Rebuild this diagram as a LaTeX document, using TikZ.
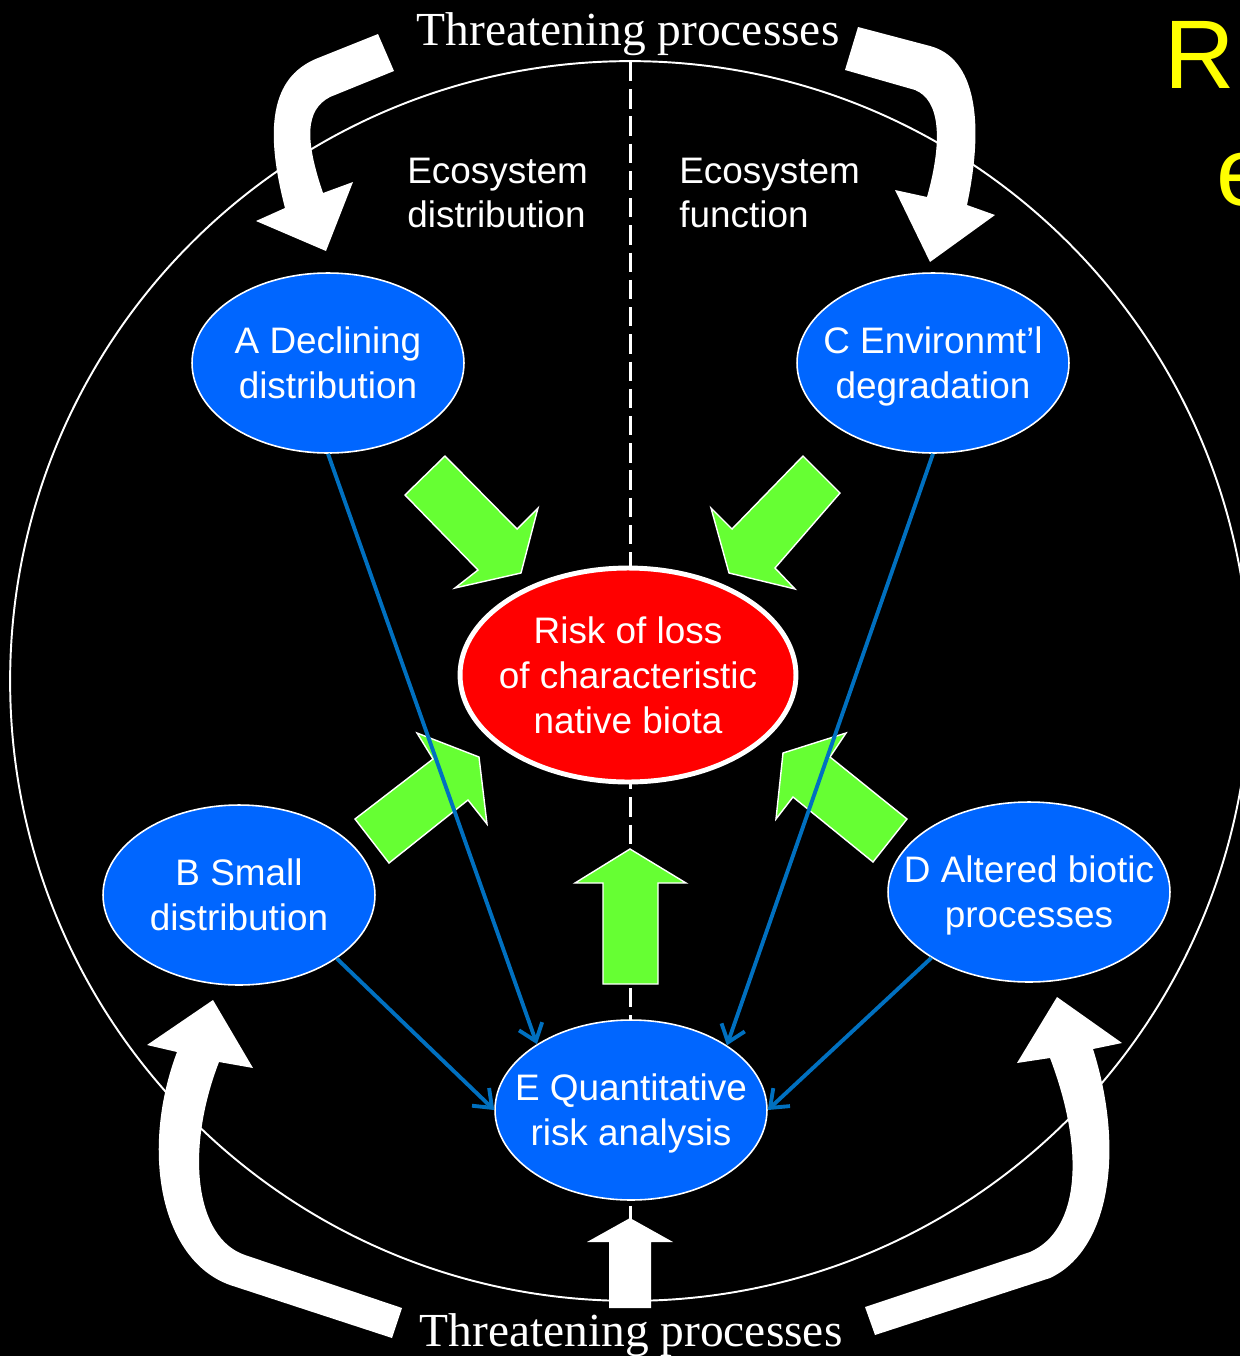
\documentclass[tikz,border=0pt]{standalone}
\usepackage{fontspec}
\setmainfont{Liberation Sans}
\newfontfamily\threatfont{Liberation Serif}
\usetikzlibrary{shapes.geometric,arrows.meta}
\definecolor{nodeblue}{HTML}{0066FF}
\definecolor{linkblue}{HTML}{0070C0}
\definecolor{riskred}{HTML}{FF0000}
\definecolor{flowgreen}{HTML}{66FF33}
\definecolor{titleyellow}{HTML}{FFFF00}

\begin{document}
\begin{tikzpicture}[x=0.02cm,y=-0.02cm,
  factor/.style={ellipse, fill=nodeblue, draw=white, line width=0.9pt,
    text=white, align=center, inner ysep=0pt, inner xsep=-1.6cm,
    text depth=0pt,
    minimum width=5.44cm, minimum height=3.6cm,
    font=\fontsize{21}{25.5}\selectfont},
  riskcore/.style={ellipse, fill=riskred, draw=white, line width=2.8pt,
    text=white, align=center, inner ysep=0pt, inner xsep=-1.6cm,
    text depth=0pt,
    minimum width=6.72cm, minimum height=4.28cm,
    font=\fontsize{21}{25.5}\selectfont},
  threat/.style={text=white, inner sep=0pt, anchor=base,
    font=\threatfont\fontsize{27}{30}\selectfont},
  eco/.style={text=white, inner sep=0pt, anchor=west, align=left,
    font=\fontsize{21}{25.5}\selectfont},
  headline/.style={text=titleyellow, inner sep=0pt, anchor=base west,
    font=\fontsize{55.5}{60}\selectfont},
  link/.style={draw=linkblue, line width=2.2pt,
    -{Straight Barb[length=9pt,width=14pt]}},
  pressure/.style={fill=white},
  influence/.style={fill=flowgreen, draw=white, line width=0.8pt, line join=miter},
  divider/.style={draw=white, line width=1.7pt, dash pattern=on 11pt off 4.5pt},
  boundary/.style={draw=white, line width=1.1pt}]

% canvas
\useasboundingbox (0,0) rectangle (1240,1356);
\fill[black] (0,0) rectangle (1240,1356);
\clip (0,0) rectangle (1240,1356);

% ecosystem boundary and the distribution / function divide
\draw[boundary] (630,681) circle [radius=12.4cm];
\draw[divider] (630,62) -- (630,1300);

% threatening processes acting on the ecosystem
\fill[pressure] (378,34) -- (318,58) .. controls (275,75) and (262,120) .. (285,208)
  -- (256,221) -- (326,251) -- (353,182) -- (323,193)
  .. controls (305,140) and (305,110) .. (330,97) -- (394,71) -- cycle;
\fill[pressure] (858,27) -- (930,46) .. controls (975,58) and (985,120) .. (967,205)
  -- (995,215) -- (930,262) -- (895,190) -- (927,197)
  .. controls (943,140) and (940,100) .. (915,90) -- (845,70) -- cycle;
\fill[pressure] (402,1308) -- (245,1255) .. controls (195,1238) and (185,1150) .. (219,1062)
  -- (253,1068) -- (213,1000) -- (147,1045) -- (177,1052)
  .. controls (140,1150) and (160,1260) .. (230,1285) -- (392,1338) -- cycle;
\fill[pressure] (865,1307) -- (1030,1252) .. controls (1080,1230) and (1085,1150) .. (1050,1058)
  -- (1017,1063) -- (1057,997) -- (1122,1043) -- (1093,1049)
  .. controls (1125,1150) and (1110,1250) .. (1050,1278) -- (875,1335) -- cycle;
\fill[pressure] (609,1308) -- (609,1242) -- (587,1242) -- (630,1218)
  -- (673,1242) -- (651,1242) -- (651,1308) -- cycle;

% symptoms feeding the risk of collapse
\draw[influence] (405,495) -- (445,456) -- (517,529) -- (538,508) -- (521,573)
  -- (455,588) -- (478,570) -- cycle;
\draw[influence] (840,493) -- (803,456) -- (732,529) -- (711,508) -- (729,573)
  -- (795,589) -- (775,568) -- cycle;
\draw[influence] (355,819) -- (433,759) -- (417,733) -- (479,757) -- (487,824)
  -- (468,800) -- (389,863) -- cycle;
\draw[influence] (907,819) -- (830,757) -- (846,733) -- (783,753) -- (776,819)
  -- (793,797) -- (873,862) -- cycle;
\draw[influence] (603,984) -- (603,883) -- (575,883) -- (630,849) -- (686,883)
  -- (658,883) -- (658,984) -- cycle;

% labels
\node[threat] (threatTop) at (628,45) {Threatening processes};
\node[threat] (threatBottom) at (631,1346) {Threatening processes};
\node[eco] (ecoDist) at (407,193) {Ecosystem\\distribution};
\node[eco] (ecoFunc) at (679,193) {Ecosystem\\function};
\node[headline] (headR) at (1164,88) {R};
\node[headline] (headE) at (1216,205) {e};

% criteria
\node[factor] (A) at (328,363) {A Declining\\distribution};
\node[factor] (C) at (933,363) {C Environmt’l\\degradation};
\node[factor] (B) at (239,895) {B Small\\distribution};
\node[factor, minimum width=5.64cm] (D) at (1029,892) {D Altered biotic\\processes};
\node[factor] (E) at (631,1110) {E Quantitative\\risk analysis};
\node[riskcore] (risk) at (628,675) {Risk of loss\\of characteristic\\native biota};

% criteria informing the quantitative analysis
\draw[link] (A.south) -- (E.145);
\draw[link] (C.south) -- (E.34);
\draw[link] (B.-33) -- (E.180);
\draw[link] (D.214) -- (E.0);
\end{tikzpicture}
\end{document}
